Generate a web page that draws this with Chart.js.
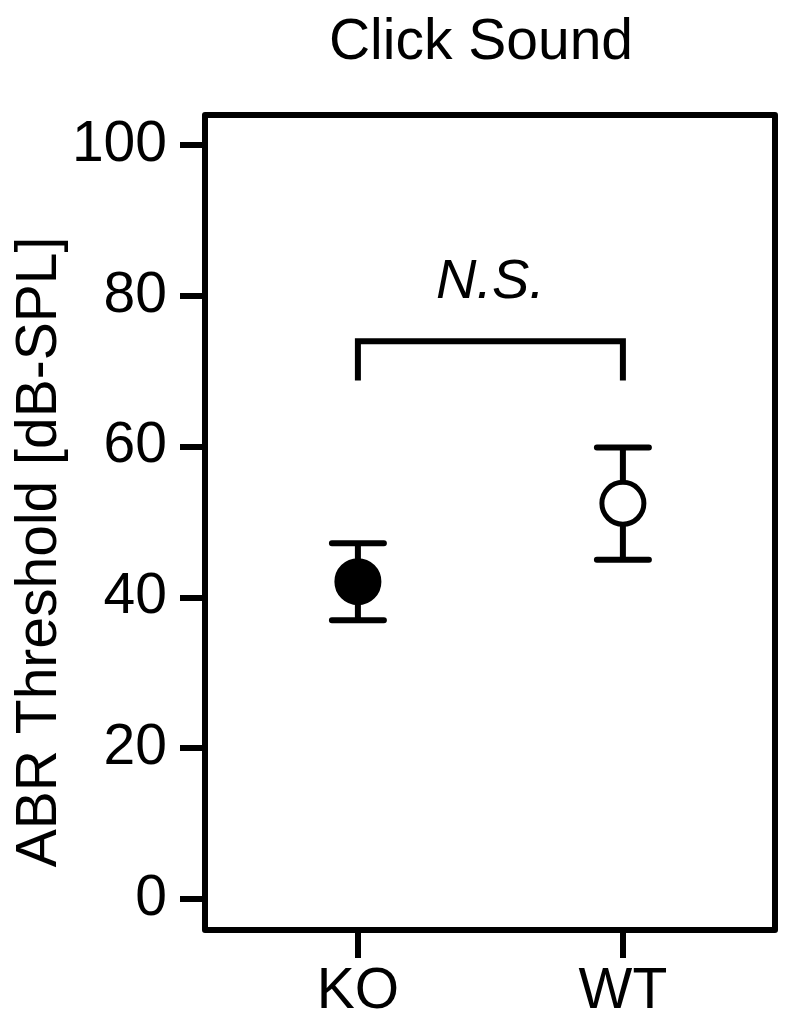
<!DOCTYPE html>
<html>
<head>
<meta charset="utf-8">
<script src="https://cdn.jsdelivr.net/npm/chart.js@4/dist/chart.umd.min.js"></script>
<style>
  html, body { margin: 0; padding: 0; background: #fff; }
  #wrap { width: 786px; height: 1028px; }
</style>
</head>
<body>
<div id="wrap"><canvas id="chart" width="786" height="1028"></canvas></div>
<script>
const FONT = '"Liberation Sans", Arial, Helvetica, sans-serif';

// data
const categories = ['KO', 'WT'];
const means = [42.1, 52.5];
const errLow = [37.0, 45.0];
const errHigh = [47.2, 59.9];
const yTicks = [0, 20, 40, 60, 80, 100];
const bracketTop = 74;    // horizontal bar of the N.S. bracket
const bracketFoot = 68.8; // where its legs end
const sigLabel = 'N.S.';
const sigLabelY = 81.8;

const chartTitle = 'Click Sound';
const yTitle = 'ABR Threshold [dB-SPL]';

// error bars, bracket, frame and the free text
const extras = {
  id: 'extras',
  beforeDatasetsDraw(chart) {
    const { ctx } = chart;
    const x = chart.scales.x, y = chart.scales.y;
    ctx.save();
    ctx.strokeStyle = '#000';
    ctx.lineWidth = 6;
    ctx.lineCap = 'round';
    categories.forEach((c, i) => {
      const px = x.getPixelForValue(i);
      const yl = y.getPixelForValue(errLow[i]);
      const yh = y.getPixelForValue(errHigh[i]);
      ctx.beginPath();
      ctx.moveTo(px, yl); ctx.lineTo(px, yh);
      ctx.moveTo(px - 26, yl); ctx.lineTo(px + 26, yl);
      ctx.moveTo(px - 26, yh); ctx.lineTo(px + 26, yh);
      ctx.stroke();
    });

    // bracket
    const x0 = x.getPixelForValue(0), x1 = x.getPixelForValue(1);
    const bt = y.getPixelForValue(bracketTop), bf = y.getPixelForValue(bracketFoot);
    ctx.lineCap = 'butt';
    ctx.lineJoin = 'miter';
    ctx.beginPath();
    ctx.moveTo(x0, bf); ctx.lineTo(x0, bt); ctx.lineTo(x1, bt); ctx.lineTo(x1, bf);
    ctx.stroke();

    ctx.fillStyle = '#000';
    ctx.font = 'italic 56px ' + FONT;
    ctx.textAlign = 'center';
    ctx.textBaseline = 'middle';
    ctx.fillText(sigLabel, (x0 + x1) / 2, y.getPixelForValue(sigLabelY));
    ctx.restore();
  },
  afterDraw(chart) {
    const { ctx, chartArea: a } = chart;
    ctx.save();
    ctx.strokeStyle = '#000';
    ctx.lineWidth = 6;
    ctx.lineJoin = 'round';
    ctx.strokeRect(a.left, a.top, a.right - a.left, a.bottom - a.top);

    ctx.fillStyle = '#000';
    ctx.font = '57px ' + FONT;
    ctx.textAlign = 'center';
    ctx.textBaseline = 'alphabetic';
    ctx.fillText(chartTitle, 481, 59);

    ctx.translate(56, 552);
    ctx.rotate(-Math.PI / 2);
    ctx.fillText(yTitle, 0, 0);
    ctx.restore();
  }
};

new Chart(document.getElementById('chart'), {
  type: 'scatter',
  data: {
    datasets: [{
      data: categories.map((c, i) => ({ x: i, y: means[i] })),
      pointRadius: 21,
      pointHoverRadius: 21,
      pointBackgroundColor: ['#000', '#fff'],
      pointBorderColor: '#000',
      pointBorderWidth: 5,
      showLine: false
    }]
  },
  options: {
    responsive: false,
    animation: false,
    layout: { autoPadding: false, padding: { left: 0, top: 115, right: 11, bottom: 0 } },
    plugins: {
      legend: { display: false },
      tooltip: { enabled: false },
      title: { display: false }
    },
    scales: {
      x: {
        type: 'linear',
        min: -0.577,
        max: 1.574,
        afterBuildTicks: (s) => { s.ticks = categories.map((c, i) => ({ value: i })); },
        afterFit: (s) => { s.height = 98; },
        border: { display: false },
        grid: {
          display: true,
          drawOnChartArea: false,
          drawTicks: true,
          tickLength: 28,
          lineWidth: 6,
          color: '#000'
        },
        ticks: {
          color: '#000',
          padding: 0,
          font: { family: FONT, size: 57 },
          callback: (v) => categories[v]
        }
      },
      y: {
        min: -4.1,
        max: 104,
        afterBuildTicks: (s) => { s.ticks = yTicks.map(v => ({ value: v })); },
        afterFit: (s) => { s.width = 205; },
        border: { display: false },
        grid: {
          display: true,
          drawOnChartArea: false,
          drawTicks: true,
          tickLength: 25,
          lineWidth: 6,
          color: '#000'
        },
        ticks: {
          color: '#000',
          padding: 13,
          font: { family: FONT, size: 57 }
        }
      }
    }
  },
  plugins: [extras]
});
</script>
</body>
</html>
